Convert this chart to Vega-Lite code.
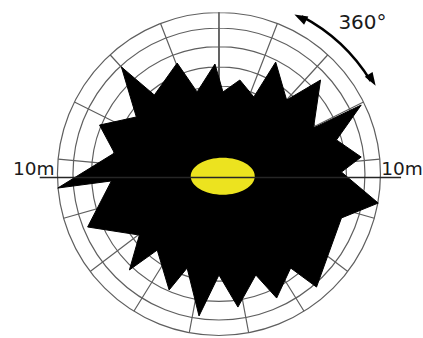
{
  "$schema": "https://vega.github.io/schema/vega-lite/v6.json",
  "width": 423,
  "height": 338,
  "padding": 0,
  "autosize": {"type": "fit", "contains": "padding"},
  "background": "white",
  "config": {"view": {"stroke": null}},
  "datasets": {
    "grid": [
      {"a0": 0, "a1": 360, "r": 10, "r0": 0},
      {"a0": 0, "a1": 360, "r": 9.04, "r0": 0},
      {"a0": 0, "a1": 360, "r": 7.89, "r0": 0},
      {"a0": 0, "a1": 360, "r": 6.63, "r0": 0},
      {"a0": 0, "a1": 360, "r": 5.45, "r0": 0},
      {"a0": 0, "a1": 0, "r": 10, "r0": 5.45},
      {"a0": 21.2, "a1": 21.2, "r": 10, "r0": 5.45},
      {"a0": 42.4, "a1": 42.4, "r": 10, "r0": 5.45},
      {"a0": 63.5, "a1": 63.5, "r": 10, "r0": 5.45},
      {"a0": 84.7, "a1": 84.7, "r": 10, "r0": 5.45},
      {"a0": 105.9, "a1": 105.9, "r": 10, "r0": 5.45},
      {"a0": 127.1, "a1": 127.1, "r": 10, "r0": 5.45},
      {"a0": 148.2, "a1": 148.2, "r": 10, "r0": 5.45},
      {"a0": 169.4, "a1": 169.4, "r": 10, "r0": 5.45},
      {"a0": 190.6, "a1": 190.6, "r": 10, "r0": 5.45},
      {"a0": 211.8, "a1": 211.8, "r": 10, "r0": 5.45},
      {"a0": 232.9, "a1": 232.9, "r": 10, "r0": 5.45},
      {"a0": 254.1, "a1": 254.1, "r": 10, "r0": 5.45},
      {"a0": 275.3, "a1": 275.3, "r": 10, "r0": 5.45},
      {"a0": 296.5, "a1": 296.5, "r": 10, "r0": 5.45},
      {"a0": 317.6, "a1": 317.6, "r": 10, "r0": 5.45},
      {"a0": 338.8, "a1": 338.8, "r": 10, "r0": 5.45}
    ],
    "star": [
      {"i": 1, "x": -10.03, "y": -0.87},
      {"i": 2, "x": -6.50, "y": 1.30},
      {"i": 3, "x": -7.43, "y": 3.03},
      {"i": 4, "x": -5.14, "y": 3.53},
      {"i": 5, "x": -6.07, "y": 6.63},
      {"i": 6, "x": -4.02, "y": 4.89},
      {"i": 7, "x": -2.60, "y": 6.87},
      {"i": 8, "x": -1.36, "y": 5.08},
      {"i": 9, "x": -0.25, "y": 6.81},
      {"i": 10, "x": 0.25, "y": 5.08},
      {"i": 11, "x": 1.30, "y": 5.82},
      {"i": 12, "x": 2.17, "y": 4.77},
      {"i": 13, "x": 3.53, "y": 6.93},
      {"i": 14, "x": 4.21, "y": 4.58},
      {"i": 15, "x": 6.32, "y": 5.82},
      {"i": 16, "x": 5.88, "y": 2.85},
      {"i": 17, "x": 8.85, "y": 4.27},
      {"i": 18, "x": 7.31, "y": 2.11},
      {"i": 19, "x": 8.85, "y": 1.05},
      {"i": 20, "x": 7.62, "y": 0.12},
      {"i": 21, "x": 9.91, "y": -1.80},
      {"i": 22, "x": 7.62, "y": -2.72},
      {"i": 23, "x": 6.07, "y": -7.00},
      {"i": 24, "x": 4.46, "y": -5.82},
      {"i": 25, "x": 3.59, "y": -7.68},
      {"i": 26, "x": 2.29, "y": -6.25},
      {"i": 27, "x": 1.18, "y": -8.24},
      {"i": 28, "x": 0.0, "y": -6.25},
      {"i": 29, "x": -1.24, "y": -8.79},
      {"i": 30, "x": -1.98, "y": -5.82},
      {"i": 31, "x": -3.10, "y": -7.18},
      {"i": 32, "x": -3.84, "y": -4.71},
      {"i": 33, "x": -5.57, "y": -5.94},
      {"i": 34, "x": -4.95, "y": -3.78},
      {"i": 35, "x": -8.17, "y": -3.28},
      {"i": 36, "x": -6.69, "y": -0.43}
    ],
    "center": [{"x": 0.235, "y": -0.14}],
    "axisline": [{"x": -11.15, "x2": 11.33, "y": -0.22}],
    "labels": [
      {"t": "10m", "x": -12.82, "y": -0.06},
      {"t": "10m", "x": 10.09, "y": -0.06},
      {"t": "360°", "x": 7.43, "y": 8.96}
    ],
    "arrow": [{"a0": 27.7, "a1": 58.5, "r": 11.02}],
    "heads": [
      {"end": "start", "x": 5.08, "y": 9.68},
      {"end": "end", "x": 9.52, "y": 5.83}
    ]
  },
  "layer": [
    {
      "data": {"name": "grid"},
      "mark": {"type": "arc", "filled": false, "stroke": "#5f5f5f", "strokeWidth": 1.2},
      "encoding": {
        "x": {"datum": 0, "type": "quantitative", "scale": {"domain": [-13.6223, 12.5697], "nice": false, "zero": false}, "axis": null},
        "y": {"datum": 0, "type": "quantitative", "scale": {"domain": [-10.1548, 10.774], "nice": false, "zero": false}, "axis": null},
        "theta": {"field": "a0", "type": "quantitative", "stack": null, "scale": {"domain": [0, 360], "range": [0, 6.283185]}},
        "theta2": {"field": "a1"},
        "radius": {"field": "r", "type": "quantitative", "scale": {"type": "linear", "domain": [0, 10], "range": [0, 161.5], "zero": true}},
        "radius2": {"field": "r0"}
      }
    },
    {
      "data": {"name": "star"},
      "mark": {"type": "line", "interpolate": "linear-closed", "filled": true, "color": "black", "stroke": "black", "strokeWidth": 1},
      "encoding": {
        "x": {"field": "x", "type": "quantitative", "scale": {"domain": [-13.6223, 12.5697], "nice": false, "zero": false}, "axis": null},
        "y": {"field": "y", "type": "quantitative", "scale": {"domain": [-10.1548, 10.774], "nice": false, "zero": false}, "axis": null},
        "order": {"field": "i", "type": "quantitative"}
      }
    },
    {
      "data": {"name": "center"},
      "mark": {"type": "point", "shape": "M-1,0A1,0.578,0,1,0,1,0A1,0.578,0,1,0,-1,0Z", "size": 4096, "filled": true, "color": "#ece31f", "opacity": 1},
      "encoding": {
        "x": {"field": "x", "type": "quantitative", "scale": {"domain": [-13.6223, 12.5697], "nice": false, "zero": false}, "axis": null},
        "y": {"field": "y", "type": "quantitative", "scale": {"domain": [-10.1548, 10.774], "nice": false, "zero": false}, "axis": null}
      }
    },
    {
      "data": {"name": "axisline"},
      "mark": {"type": "rule", "color": "#262626", "strokeWidth": 1.5},
      "encoding": {
        "x": {"field": "x", "type": "quantitative", "scale": {"domain": [-13.6223, 12.5697], "nice": false, "zero": false}, "axis": null},
        "x2": {"field": "x2"},
        "y": {"field": "y", "type": "quantitative", "scale": {"domain": [-10.1548, 10.774], "nice": false, "zero": false}, "axis": null}
      }
    },
    {
      "data": {"name": "labels"},
      "transform": [{"filter": "datum.t == '10m'"}],
      "mark": {"type": "text", "align": "left", "baseline": "alphabetic", "font": "DejaVu Sans", "fontSize": 18.5, "color": "#1a1a1a"},
      "encoding": {
        "x": {"field": "x", "type": "quantitative", "scale": {"domain": [-13.6223, 12.5697], "nice": false, "zero": false}, "axis": null},
        "y": {"field": "y", "type": "quantitative", "scale": {"domain": [-10.1548, 10.774], "nice": false, "zero": false}, "axis": null},
        "text": {"field": "t"}
      }
    },
    {
      "data": {"name": "labels"},
      "transform": [{"filter": "datum.t != '10m'"}],
      "mark": {"type": "text", "align": "left", "baseline": "alphabetic", "font": "DejaVu Sans", "fontSize": 20, "color": "#1a1a1a"},
      "encoding": {
        "x": {"field": "x", "type": "quantitative", "scale": {"domain": [-13.6223, 12.5697], "nice": false, "zero": false}, "axis": null},
        "y": {"field": "y", "type": "quantitative", "scale": {"domain": [-10.1548, 10.774], "nice": false, "zero": false}, "axis": null},
        "text": {"field": "t"}
      }
    },
    {
      "data": {"name": "arrow"},
      "mark": {"type": "arc", "filled": false, "stroke": "black", "strokeWidth": 2.5},
      "encoding": {
        "x": {"datum": 0, "type": "quantitative", "scale": {"domain": [-13.6223, 12.5697], "nice": false, "zero": false}, "axis": null},
        "y": {"datum": 0, "type": "quantitative", "scale": {"domain": [-10.1548, 10.774], "nice": false, "zero": false}, "axis": null},
        "theta": {"field": "a0", "type": "quantitative", "stack": null, "scale": {"domain": [0, 360], "range": [0, 6.283185]}},
        "theta2": {"field": "a1"},
        "radius": {"field": "r", "type": "quantitative", "scale": {"type": "linear", "domain": [0, 10], "range": [0, 161.5], "zero": true}},
        "radius2": {"field": "r"}
      }
    },
    {
      "data": {"name": "heads"},
      "transform": [{"filter": "datum.end == 'start'"}],
      "mark": {"type": "point", "shape": "M0,-1L0.65,0.9L-0.65,0.9Z", "size": 196, "filled": true, "color": "black", "opacity": 1, "angle": 297.7},
      "encoding": {
        "x": {"field": "x", "type": "quantitative", "scale": {"domain": [-13.6223, 12.5697], "nice": false, "zero": false}, "axis": null},
        "y": {"field": "y", "type": "quantitative", "scale": {"domain": [-10.1548, 10.774], "nice": false, "zero": false}, "axis": null}
      }
    },
    {
      "data": {"name": "heads"},
      "transform": [{"filter": "datum.end == 'end'"}],
      "mark": {"type": "point", "shape": "M0,-1L0.65,0.9L-0.65,0.9Z", "size": 196, "filled": true, "color": "black", "opacity": 1, "angle": 148.5},
      "encoding": {
        "x": {"field": "x", "type": "quantitative", "scale": {"domain": [-13.6223, 12.5697], "nice": false, "zero": false}, "axis": null},
        "y": {"field": "y", "type": "quantitative", "scale": {"domain": [-10.1548, 10.774], "nice": false, "zero": false}, "axis": null}
      }
    }
  ]
}
